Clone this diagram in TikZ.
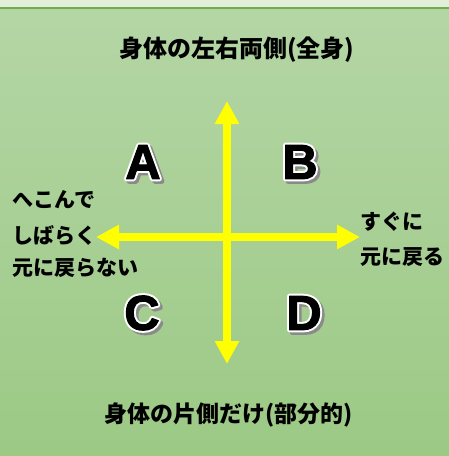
\documentclass[tikz,border=0pt]{standalone}
\usepackage{fontspec}
\newfontfamily\jp{Noto Sans CJK JP}
\newfontfamily\lat{Liberation Sans}
\usetikzlibrary{arrows.meta}
\definecolor{strip}{HTML}{E2EFDA}
\definecolor{stripline}{HTML}{70AD47}
\definecolor{bgtop}{HTML}{B4D6A5}
\definecolor{bgbot}{HTML}{9CC985}
\definecolor{arrowyellow}{HTML}{FFFF00}
\definecolor{shadowgrey}{HTML}{8A8A8A}
\newcommand{\strokefill}[2]{\special{pdf:literal direct #1 w 1 j 2 Tr}#2\special{pdf:literal direct 0 Tr}}
\tikzset{
  ylab/.style={font=\jp\bfseries\fontsize{21}{24}\selectfont, inner sep=0pt, anchor=west},
  ttl/.style={font=\jp\bfseries\fontsize{24}{28}\selectfont, inner sep=0pt},
  ttlb/.style={font=\jp\bfseries\fontsize{23}{28}\selectfont, inner sep=0pt},
  bigletter/.style={font=\lat\bfseries\fontsize{49}{54}\selectfont, inner sep=0pt},
  letoutline/.style={bigletter, text=white},
  letshadow/.style={bigletter, text=shadowgrey},
  yarrow/.style={draw=arrowyellow, line width=8pt,
    {Triangle[width=23pt,length=23pt]}-{Triangle[width=23pt,length=23pt]}}
}
\begin{document}
\begin{tikzpicture}[x=1pt,y=-1pt]
\useasboundingbox (0,0) rectangle (449,456);
\fill[strip] (0,0) rectangle (449,8);
\shade[top color=bgtop, bottom color=bgbot] (0,8) rectangle (449,456);
\draw[stripline, line width=1.5pt] (0,8) -- (449,8);

\coordinate (top) at (227,101);
\coordinate (bot) at (227,364);
\coordinate (lft) at (96,237);
\coordinate (rgt) at (360,237);
\draw[yarrow] (top) -- (bot);
\draw[yarrow] (lft) -- (rgt);

\node[ttl] (t1) at (237,50) {身体の左右両側(全身)};
\node[ttlb] (t2) at (229,415) {身体の片側だけ(部分的)};

\node[ylab] (l1) at (12,200) {へこんで};
\node[ylab] (l2) at (12,236) {しばらく};
\node[ylab] (l3) at (12,268) {元に戻らない};
\node[ylab] (r1) at (360,222) {すぐに};
\node[ylab] (r2) at (360,257) {元に戻る};

\foreach \n/\L/\x/\y in {a/A/143/162, b/B/300/162, c/C/142/313, d/D/304/313}{
  \node[letshadow] (\n s) at (\x+2.5,\y+2.5) {\strokefill{5}{\L}};
  \node[letoutline] (\n o) at (\x,\y) {\strokefill{5}{\L}};
  \node[bigletter] (\n) at (\x,\y) {\strokefill{1}{\L}};
}
\end{tikzpicture}
\end{document}
